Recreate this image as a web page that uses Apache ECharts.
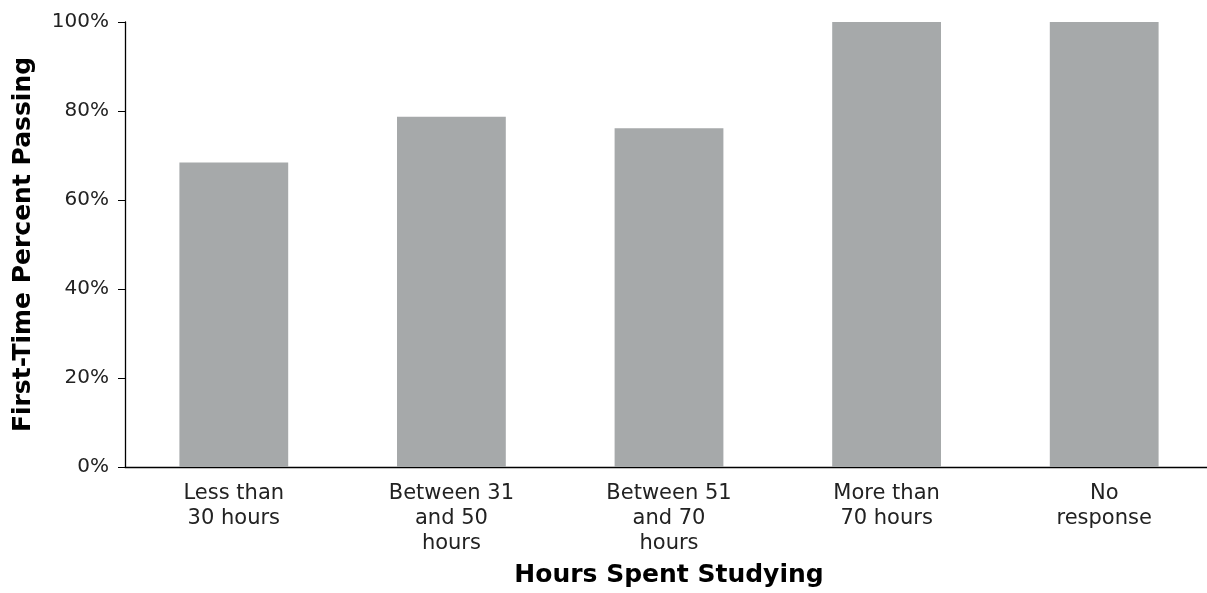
<!DOCTYPE html>
<html>
<head>
<meta charset="utf-8">
<script src="https://cdn.jsdelivr.net/npm/echarts@6/dist/echarts.min.js"></script>
<style>
html, body { margin: 0; padding: 0; background: #fff; }
#main { width: 1207px; height: 593px; }
</style>
</head>
<body>
<div id="main"></div>
<script>
// categories and values
var categories = ["Less than\n30 hours", "Between 31\nand 50\nhours", "Between 51\nand 70\nhours", "More than\n70 hours", "No\nresponse"];
var passRate = [68.4, 78.7, 76.1, 100, 100];
var yTicks = [0, 20, 40, 60, 80, 100];

var myChart = echarts.init(document.getElementById("main"));
var font = "DejaVu Sans";
var option = {
  animation: false,
  textStyle: { fontFamily: font },
  grid: { left: 125, width: 1088, top: 22, bottom: 126, outerBoundsMode: "none" },
  xAxis: {
    type: "category",
    data: categories,
    name: "Hours Spent Studying",
    nameLocation: "middle",
    nameGap: 96,
    nameTextStyle: { fontFamily: font, fontSize: 25, fontWeight: "bold", color: "#000" },
    axisLine: { lineStyle: { color: "#000", width: 1.3 } },
    axisTick: { alignWithLabel: true, length: 7, lineStyle: { color: "#000" } },
    axisLabel: { fontFamily: font, fontSize: 21, color: "#222", margin: 14, lineHeight: 25, interval: 0 }
  },
  yAxis: {
    type: "value",
    min: 0,
    max: 100,
    interval: 20,
    name: "First-Time Percent Passing",
    nameLocation: "middle",
    nameGap: 89,
    nameTextStyle: { fontFamily: font, fontSize: 25, fontWeight: "bold", color: "#000" },
    axisLine: { show: true, lineStyle: { color: "#000", width: 1.3 } },
    axisTick: { show: true, length: 7, lineStyle: { color: "#000" } },
    splitLine: { show: false },
    axisLabel: {
      fontFamily: font, fontSize: 20, color: "#222", margin: 16,
      formatter: function (v) { return yTicks.indexOf(v) >= 0 ? v + "%" : ""; }
    }
  },
  series: [
    {
      type: "bar",
      data: passRate,
      barWidth: "50%",
      itemStyle: { color: "#a6a9aa" }
    }
  ]
};
myChart.setOption(option);
</script>
</body>
</html>
